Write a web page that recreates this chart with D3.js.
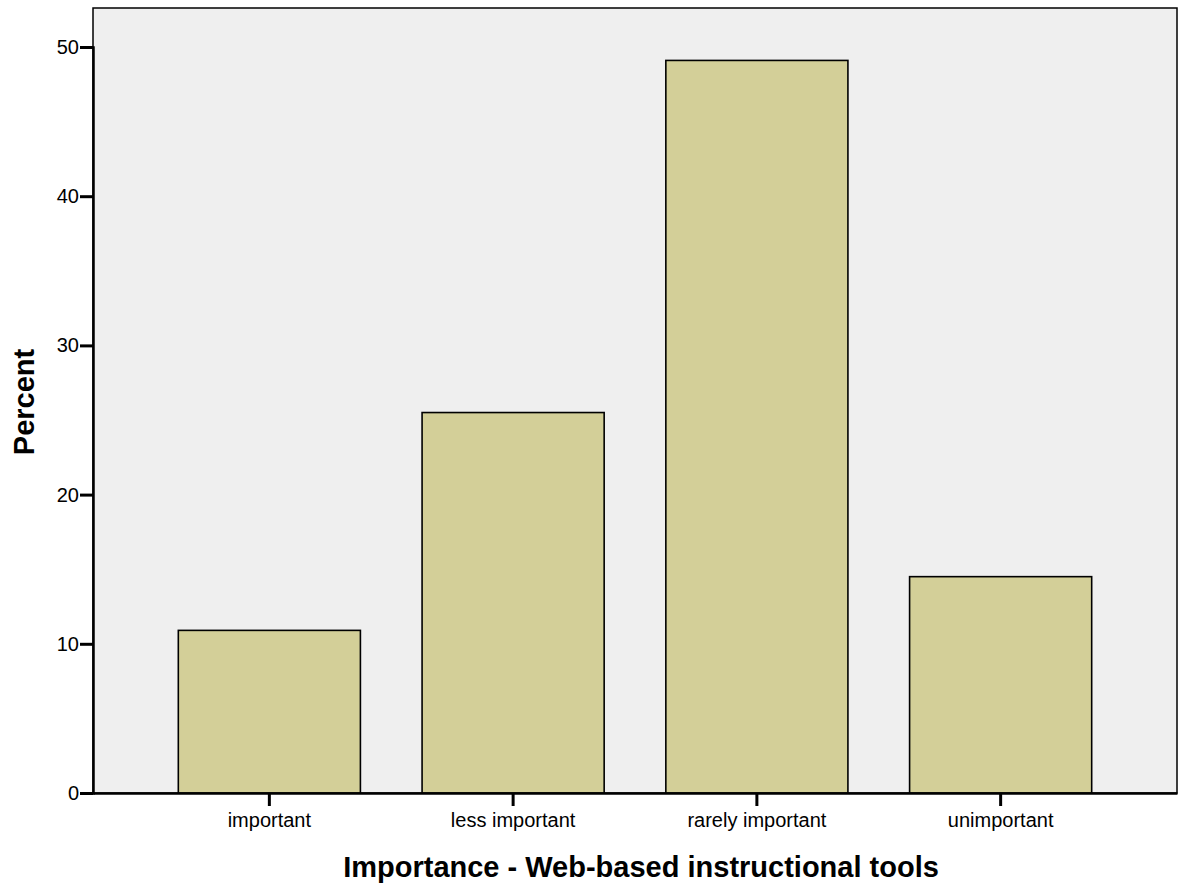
<!DOCTYPE html>
<html><head><meta charset="utf-8">
<script src="https://cdn.jsdelivr.net/npm/d3@7"></script>
<style>body{margin:0;background:#fff;} text{font-family:"Liberation Sans",Arial,sans-serif;}</style>
</head><body>
<svg id="c" width="1182" height="888"></svg>
<script>
const categories = ["important","less important","rarely important","unimportant"];
const percents = [10.9, 25.5, 49.1, 14.5];
const yTicks = [0,10,20,30,40,50];
const xTitle = "Importance - Web-based instructional tools";
const yTitle = "Percent";

const svg = d3.select("#c");
const L=93, R=1177, T=8, B=793;
const x = d3.scaleBand().domain(categories).range([L,R]).paddingInner(0.253).paddingOuter(0.35);
const y = d3.scaleLinear().domain([0,50]).range([B,47]);

svg.append("rect").attr("x",L).attr("y",T).attr("width",R-L).attr("height",B-T)
  .attr("fill","#efefef").attr("stroke","#000").attr("stroke-width",1.5);

svg.selectAll("rect.bar").data(percents).join("rect").attr("class","bar")
  .attr("x",(d,i)=>x(categories[i])).attr("width",x.bandwidth())
  .attr("y",d=>y(d)).attr("height",d=>B-y(d))
  .attr("fill","#d3cf98").attr("stroke","#000").attr("stroke-width",1.6);

const yAxis = svg.append("g").attr("transform",`translate(${L},0)`)
  .call(d3.axisLeft(y).tickValues(yTicks).tickSize(13).tickPadding(1));
yAxis.select(".domain").attr("stroke-width",2.5);
yAxis.selectAll(".tick line").attr("stroke-width",3);
yAxis.selectAll(".tick text").attr("font-size",20).attr("fill","#000");

const xAxis = svg.append("g").attr("transform",`translate(0,${B})`)
  .call(d3.axisBottom(x).tickSize(13).tickPadding(7).tickSizeOuter(0));
xAxis.select(".domain").attr("stroke-width",2.5);
xAxis.selectAll(".tick line").attr("stroke-width",3);
xAxis.selectAll(".tick text").attr("font-size",20).attr("fill","#000");

svg.append("text").attr("x",641).attr("y",877).attr("text-anchor","middle")
  .attr("font-size",29).attr("font-weight","bold").text(xTitle);
svg.append("text").attr("transform","translate(34,402) rotate(-90)").attr("text-anchor","middle")
  .attr("font-size",29).attr("font-weight","bold").text(yTitle);
</script>
</body></html>
